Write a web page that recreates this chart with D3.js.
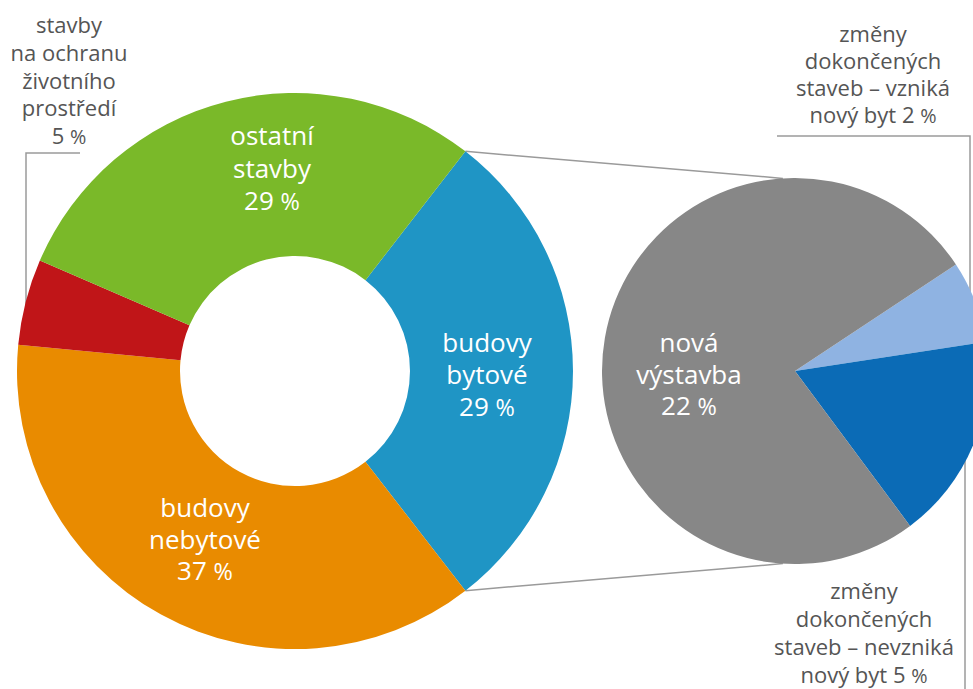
<!DOCTYPE html>
<html><head><meta charset="utf-8">
<script src="https://cdn.jsdelivr.net/npm/d3@7"></script>
<style>
body{margin:0;background:#fff;}
svg{display:block;font-family:"Open Sans",sans-serif;}
</style></head>
<body>
<svg id="c" width="973" height="689"></svg>
<script>
// ---- data ----
const donutCategories = ["budovy bytové", "budovy nebytové", "stavby na ochranu životního prostředí", "ostatní stavby"];
const donutValues = [29, 37, 5, 29];
const donutColors = ["#1f95c5", "#e98b00", "#c01518", "#7ab929"];

const pieCategories = ["změny dokončených staveb – vzniká nový byt", "změny dokončených staveb – nevzniká nový byt", "nová výstavba"];
const pieValues = [2, 5, 22];
const pieColors = ["#8fb3e2", "#0b6bb6", "#878787"];

// ---- layout ----
const svg = d3.select("#c");
const rad = d => d * Math.PI / 180;
const D = {cx: 295, cy: 371, r: 278, ir: 115, start: 37.8};
const P = {cx: 795, cy: 371, r: 193, start: 56.5};
const lineColor = "#9a9a9a";
const textColor = "#555";

const donutPie = d3.pie().sort(null).value(d => d.v)
  .startAngle(rad(D.start)).endAngle(rad(D.start) + 2 * Math.PI);
const donutArcs = donutPie(donutValues.map((v, i) => ({v, c: donutColors[i], name: donutCategories[i]})));
const pPie = d3.pie().sort(null).value(d => d.v)
  .startAngle(rad(P.start)).endAngle(rad(P.start) + 2 * Math.PI);
const pieArcs = pPie(pieValues.map((v, i) => ({v, c: pieColors[i], name: pieCategories[i]})));

const pt = (c, r, a) => [c.cx + r * Math.sin(a), c.cy - r * Math.cos(a)];

// leader / connector lines (behind)
const gl = svg.append("g").attr("fill", "none").attr("stroke", lineColor).attr("stroke-width", 1.5);
const blue = donutArcs[0];
const pTop = pt(P, P.r, rad(-3.6)), pBot = pt(P, P.r, rad(183.6));
gl.append("line").attr("x1", pt(D, D.r, blue.startAngle)[0]).attr("y1", pt(D, D.r, blue.startAngle)[1])
  .attr("x2", pTop[0]).attr("y2", pTop[1]);
gl.append("line").attr("x1", pt(D, D.r, blue.endAngle)[0]).attr("y1", pt(D, D.r, blue.endAngle)[1])
  .attr("x2", pBot[0]).attr("y2", pBot[1]);
gl.append("path").attr("d", "M80,153H26V305");
gl.append("path").attr("d", "M777,136H970V295");
gl.append("path").attr("d", "M965,455V689");

// donut
const arcD = d3.arc().innerRadius(D.ir).outerRadius(D.r);
svg.append("g").attr("transform", `translate(${D.cx},${D.cy})`)
  .selectAll("path").data(donutArcs).join("path")
  .attr("d", arcD).attr("fill", d => d.data.c);

// pie
const arcP = d3.arc().innerRadius(0).outerRadius(P.r);
svg.append("g").attr("transform", `translate(${P.cx},${P.cy})`)
  .selectAll("path").data(pieArcs).join("path")
  .attr("d", arcP).attr("fill", d => d.data.c);

// labels
function label(x, y0, lh, lines, size, color) {
  lines.forEach((ln, i) => {
    const t = svg.append("text").attr("text-anchor", "middle").attr("fill", color)
      .attr("font-size", size).attr("x", x).attr("y", y0 + i * lh);
    const m = ln.match(/^(.*?)(\d+) %$/);
    if (m) {
      t.append("tspan").text(m[1] + m[2] + " ");
      t.append("tspan").attr("font-size", size * 0.9).text("%");
    } else {
      t.text(ln);
    }
  });
}
const inner = "#ffffff";
label(272, 145, 32.5, ["ostatní", "stavby", donutValues[3] + " %"], 26, inner);
label(487, 352, 32, ["budovy", "bytové", donutValues[0] + " %"], 26, inner);
label(205, 517, 31.5, ["budovy", "nebytové", donutValues[1] + " %"], 26, inner);
label(689, 352, 31.5, ["nová", "výstavba", pieValues[2] + " %"], 26, inner);

label(69, 33, 27.8, ["stavby", "na ochranu", "životního", "prostředí", donutValues[2] + " %"], 22, textColor);
label(873, 42, 27, ["změny", "dokončených", "staveb – vzniká", "nový byt " + pieValues[0] + " %"], 22, textColor);
label(864, 599, 28, ["změny", "dokončených", "staveb – nevzniká", "nový byt " + pieValues[1] + " %"], 22, textColor);
</script>
</body></html>
